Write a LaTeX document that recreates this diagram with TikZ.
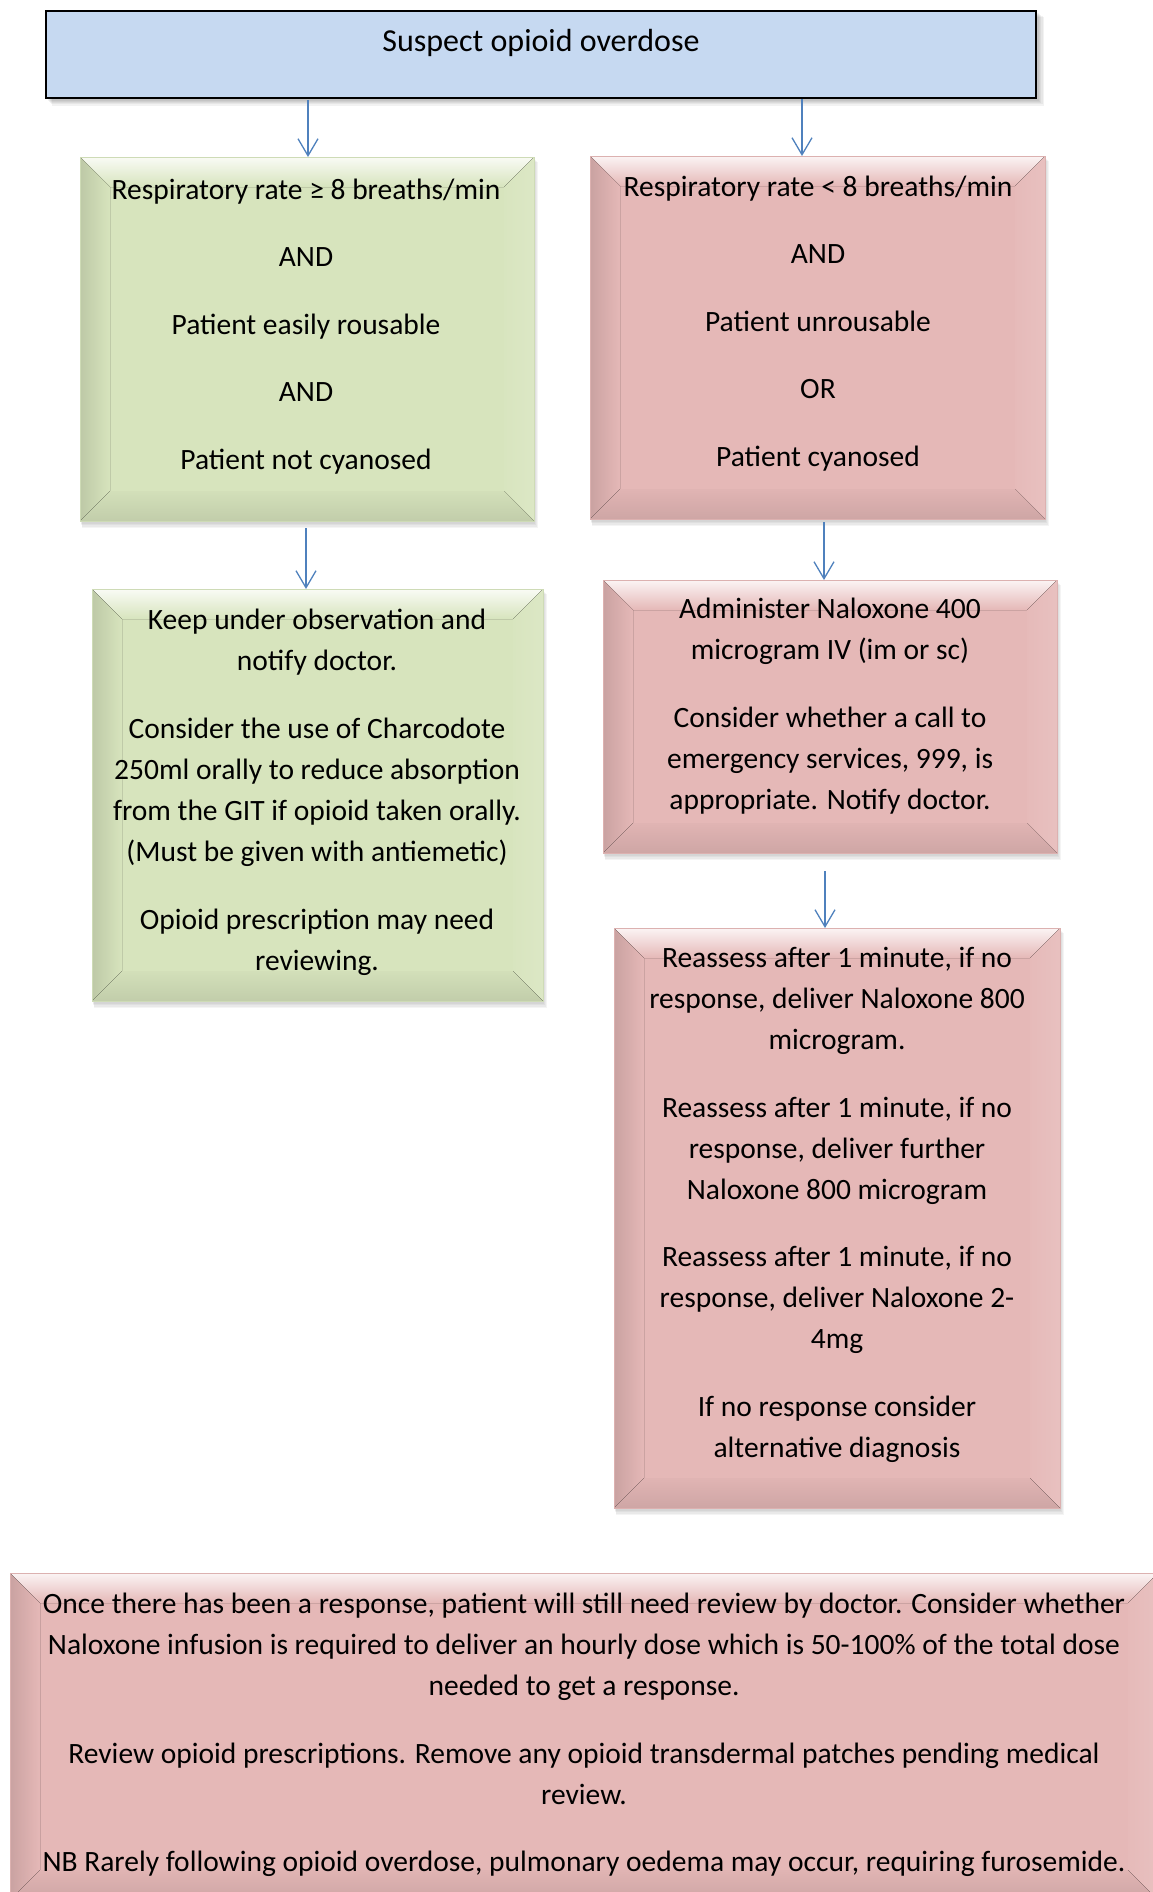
\documentclass[tikz,border=0pt]{standalone}
\usepackage{fontspec}
\setmainfont{Carlito}
\usetikzlibrary{arrows.meta}
\definecolor{bluefill}{HTML}{C6D9F1}
\definecolor{greenfill}{HTML}{D7E4BD}
\definecolor{redfill}{HTML}{E5B8B7}
\definecolor{arrowblue}{HTML}{4F81BD}
\tikzset{
  txt/.style={align=center, font=\fontsize{29.5}{41}\selectfont, inner sep=0pt},
  arr/.style={draw=arrowblue, line width=1.3pt, -{Straight Barb[length=17pt,width=20pt,line width=1.3pt]}},
  boxbase/.style={inner sep=0pt, outer sep=0pt}
}
% name, x1, y1, x2, y2, colour
\newcommand{\bevbox}[6]{%
  \foreach \i in {1,...,5} {\fill[black,opacity=0.045] ({#2+0.4*\i},{#3+\i}) rectangle ({#4+0.7*\i},{#5+1.4*\i});}
  \node[boxbase, fill=#6, minimum width={(#4-#2)*1pt}, minimum height={(#5-#3)*1pt}] (#1) at ({(#2+#4)/2},{(#3+#5)/2}) {};
  \fill[top color=white!85!#6, bottom color=#6] (#2,#3) -- (#4,#3) -- ({#4-30},{#3+30}) -- ({#2+30},{#3+30}) -- cycle;
  \fill[left color=#6!88!black, right color=#6] (#2,#3) -- ({#2+30},{#3+30}) -- ({#2+30},{#5-30}) -- (#2,#5) -- cycle;
  \fill[right color=#6!88!white, left color=#6!97!white] (#4,#3) -- ({#4-30},{#3+30}) -- ({#4-30},{#5-30}) -- (#4,#5) -- cycle;
  \fill[bottom color=#6!90!black, top color=#6!98!black] (#2,#5) -- ({#2+30},{#5-30}) -- ({#4-30},{#5-30}) -- (#4,#5) -- cycle;
  \draw[#6!96!black, line width=0.5pt] (#2,#3) rectangle (#4,#5);
}
\begin{document}
\begin{tikzpicture}[x=1pt, y=-1pt]
\useasboundingbox (0,0) rectangle (1152,1892);

% top box
\foreach \i in {1,...,6} {\fill[black,opacity=0.05] ({46+\i},{11+\i}) rectangle ({1036+1.3*\i},{98+1.3*\i});}
\node[boxbase, draw=black, line width=2pt, fill=bluefill, minimum width=990pt, minimum height=87pt] (top) at (541,54.5) {};
\node[txt, font=\fontsize{32}{41}\selectfont] (toptxt) at (541,43) {Suspect opioid overdose};

% bevel boxes
\bevbox{g1}{80}{157}{534}{521}{greenfill}
\bevbox{r1}{590}{156}{1045}{519}{redfill}
\bevbox{g2}{92}{589}{543}{1001}{greenfill}
\bevbox{r2}{603}{580}{1057}{853}{redfill}
\bevbox{r3}{614}{928}{1060}{1508}{redfill}
\bevbox{bot}{10}{1573}{1158}{1900}{redfill}

% texts
\node[txt] (g1txt) at (306,326.5) {Respiratory rate ≥ 8 breaths/min\\[26.5pt]AND\\[26.5pt]Patient easily rousable\\[26.5pt]AND\\[26.5pt]Patient not cyanosed};
\node[txt] (r1txt) at (818,323.5) {Respiratory rate < 8 breaths/min\\[26.5pt]AND\\[26.5pt]Patient unrousable\\[26.5pt]OR\\[26.5pt]Patient cyanosed};
\node[txt] (g2txt) at (317,792.5) {Keep under observation and\\notify doctor.\\[27pt]Consider the use of Charcodote\\250ml orally to reduce absorption\\from the GIT if opioid taken orally.\\(Must be given with antiemetic)\\[27.5pt]Opioid prescription may need\\reviewing.};
\node[txt] (r2txt) at (830,706) {Administer Naloxone 400\\microgram IV (im or sc)\\[26.5pt]Consider whether a call to\\emergency services, 999, is\\appropriate. Notify doctor.};
\node[txt] (r3txt) at (837,1205) {Reassess after 1 minute, if no\\response, deliver Naloxone 800\\microgram.\\[26.5pt]Reassess after 1 minute, if no\\response, deliver further\\Naloxone 800 microgram\\[26.5pt]Reassess after 1 minute, if no\\response, deliver Naloxone 2-\\4mg\\[26.5pt]If no response consider\\alternative diagnosis};
\node[txt] (bottxt) at (584,1735) {Once there has been a response, patient will still need review by doctor. Consider whether\\Naloxone infusion is required to deliver an hourly dose which is 50-100\% of the total dose\\needed to get a response.\\[26.5pt]Review opioid prescriptions. Remove any opioid transdermal patches pending medical\\review.\\[26.5pt]NB Rarely following opioid overdose, pulmonary oedema may occur, requiring furosemide.};

% connectors
\draw[arr] ([xshift=1pt,yshift=57pt]g1.north) -- ([xshift=1pt]g1.north);
\draw[arr] ([xshift=-15.5pt,yshift=57pt]r1.north) -- ([xshift=-15.5pt]r1.north);
\draw[arr] ([xshift=-11.5pt,yshift=61pt]g2.north) -- ([xshift=-11.5pt]g2.north);
\draw[arr] ([xshift=-6pt,yshift=58pt]r2.north) -- ([xshift=-6pt]r2.north);
\draw[arr] ([xshift=-12pt,yshift=57pt]r3.north) -- ([xshift=-12pt]r3.north);
\end{tikzpicture}
\end{document}
